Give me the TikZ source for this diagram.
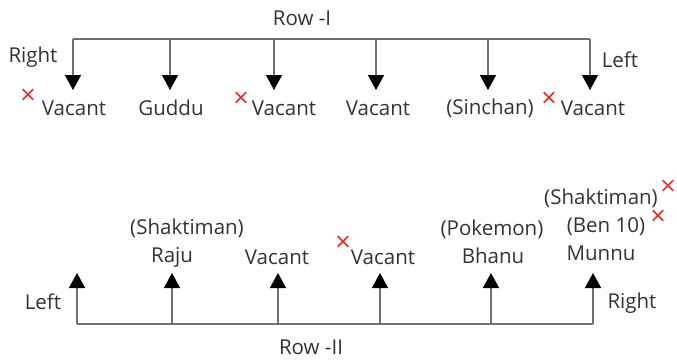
\documentclass[tikz,border=0pt]{standalone}
\usepackage{fontspec}
\setmainfont{Open Sans}
\usetikzlibrary{arrows.meta}
\definecolor{bargray}{HTML}{707070}
\definecolor{txtgray}{HTML}{333333}
\definecolor{crossred}{HTML}{E03030}
\begin{document}
\begin{tikzpicture}[x=1pt, y=-1pt, font=\fontsize{20.5}{23}\selectfont, line join=round,
    bar/.style={draw=bargray, line width=1.4pt},
    pin/.style={bar, -{Triangle[width=16pt,length=15pt,color=black]}},
    lbl/.style={inner sep=0pt, text=txtgray},
    cross/.style={inner sep=0pt, text=crossred, font=\fontsize{27}{27}\selectfont}]
    \useasboundingbox (0,0) rectangle (677,360);
    % Row I
    \foreach\n/\x in{1/73,2/170,3/274,4/376,5/488,6/590}{
        \coordinate (a\n) at (\x,39);
        \coordinate (e\n) at (\x,90);
        \draw[pin](a\n)--(e\n);}
    \draw[bar](a1)--(a6);
    \node[lbl] (row1) at (302,18){Row -I};
    \node[lbl] (r1) at (33,57){Right};
    \node[lbl] (l1) at (620,60){Left};
    \node[lbl] (v1) at (74,108){Vacant};
    \node[lbl] (v2) at (171,108){Guddu};
    \node[lbl] (v3) at (284,108){Vacant};
    \node[lbl] (v4) at (378,108){Vacant};
    \node[lbl] (v5) at (490,108){(Sinchan)};
    \node[lbl] (v6) at (593,108){Vacant};
    \node[cross] (x1) at (28,97){×};
    \node[cross] (x2) at (241,100){×};
    \node[cross] (x3) at (549,100){×};
    % Row II
    \foreach\n/\x in{1/77,2/172,3/278,4/380,5/491,6/593}{
        \coordinate (b\n) at (\x,324);
        \coordinate (f\n) at (\x,273);
        \draw[pin](b\n)--(f\n);}
    \draw[bar](b1)--(b6);
    \node[lbl] (row2) at (311,347){Row -II};
    \node[lbl] (l2) at (43,302){Left};
    \node[lbl] (r2) at (632,303){Right};
    \node[lbl] (w2) at (172,257){Raju};
    \node[lbl] (s2) at (187,228){(Shaktiman)};
    \node[lbl] (w3) at (277,257){Vacant};
    \node[lbl] (w4) at (383,257){Vacant};
    \node[lbl] (w5) at (493,256){Bhanu};
    \node[lbl] (s5) at (492,229){(Pokemon)};
    \node[lbl] (w6) at (601,253){Munnu};
    \node[lbl] (s6) at (606,227){(Ben 10)};
    \node[lbl] (t6) at (601,198){(Shaktiman)};
    \node[cross] (x4) at (343,244){×};
    \node[cross] (x5) at (658,218){×};
    \node[cross] (x6) at (668,188){×};
\end{tikzpicture}
\end{document}
